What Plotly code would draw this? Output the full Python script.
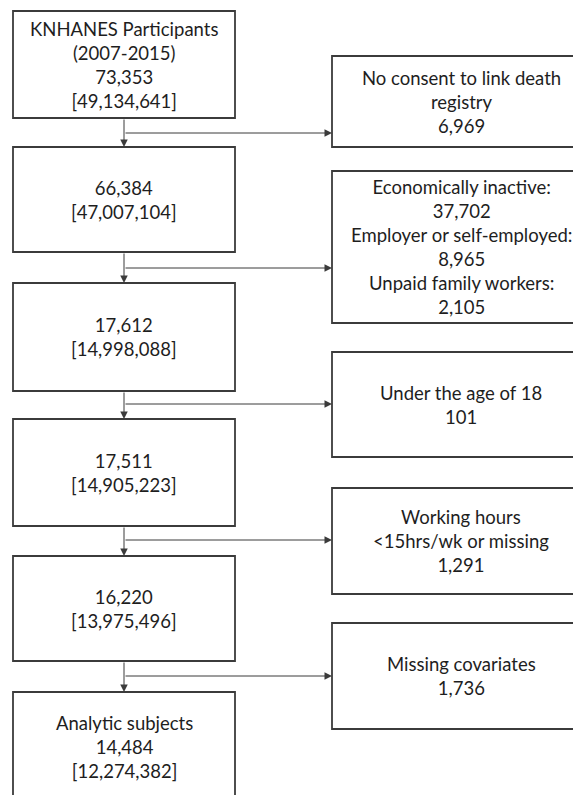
import plotly.graph_objects as go

# ---------------- data ----------------
main_titles = ["KNHANES Participants<br>(2007-2015)", "", "", "", "", "Analytic subjects"]
main_counts = [73353, 66384, 17612, 17511, 16220, 14484]
main_weighted = [49134641, 47007104, 14998088, 14905223, 13975496, 12274382]

excl_titles = [
    ["No consent to link death<br>registry"],
    ["Economically inactive:", "Employer or self-employed:", "Unpaid family workers:"],
    ["Under the age of 18"],
    ["Working hours<br>&lt;15hrs/wk or missing"],
    ["Missing covariates"],
]
excl_counts = [
    [6969],
    [37702, 8965, 2105],
    [101],
    [1291],
    [1736],
]

# ---------------- layout (pixel positions on the page) ----------------
W, H = 581, 795
OFF = 8                     # default page body margin
LX0, LX1 = 13, 235          # main boxes x-extent
CX = 124                    # connector x
RX0, RX1 = 332, 590         # exclusion boxes x-extent
main_y = [(11, 118), (147, 252), (283, 391), (419, 526), (556, 661), (692, 802)]
excl_y = [(56, 147), (171, 323), (352, 457), (488, 594), (623, 729)]
branch_y = [133, 268, 404, 540, 676]

LINE = "#3b3b3b"
TXT = "#1e1e1e"
FONT = "Lato"
FS = 18.5

fig = go.Figure()
shapes = []
annotations = []

def main_text(i):
    parts = []
    if main_titles[i]:
        parts.append(main_titles[i])
    parts.append(f"{main_counts[i]:,}")
    parts.append(f"[{main_weighted[i]:,}]")
    return "<br>".join(parts)

def excl_text(i):
    parts = []
    for t, n in zip(excl_titles[i], excl_counts[i]):
        parts.append(t)
        parts.append(f"{n:,}")
    return "<br>".join(parts)

for i, (y0, y1) in enumerate(main_y):
    shapes.append(dict(type="rect", xref="x", yref="y", x0=LX0, x1=LX1, y0=y0, y1=y1,
                       line=dict(color=LINE, width=1.8), fillcolor="white"))
    annotations.append(dict(x=(LX0 + LX1) / 2, y=(y0 + y1) / 2, xref="x", yref="y",
                            text=main_text(i), showarrow=False,
                            font=dict(family=FONT, size=FS, color=TXT), align="center"))

for i, (y0, y1) in enumerate(excl_y):
    shapes.append(dict(type="rect", xref="x", yref="y", x0=RX0, x1=RX1, y0=y0, y1=y1,
                       line=dict(color=LINE, width=1.8), fillcolor="white"))
    annotations.append(dict(x=(RX0 + RX1) / 2, y=(y0 + y1) / 2, xref="x", yref="y",
                            text=excl_text(i), showarrow=False,
                            font=dict(family=FONT, size=FS, color=TXT), align="center"))

# vertical connectors between main boxes
for i in range(len(main_y) - 1):
    annotations.append(dict(x=CX, y=main_y[i + 1][0], ax=CX, ay=main_y[i][1],
                            xref="x", yref="y", axref="x", ayref="y", text="",
                            showarrow=True, arrowhead=2, arrowsize=1.5, arrowwidth=1,
                            arrowcolor=LINE, standoff=0))

# horizontal branches to exclusion boxes
for yb in branch_y:
    annotations.append(dict(x=RX0, y=yb, ax=CX, ay=yb,
                            xref="x", yref="y", axref="x", ayref="y", text="",
                            showarrow=True, arrowhead=2, arrowsize=1.5, arrowwidth=1,
                            arrowcolor=LINE, standoff=0))

fig.update_layout(
    width=W - OFF, height=H - OFF,
    margin=dict(l=0, r=0, t=0, b=0),
    paper_bgcolor="white", plot_bgcolor="white",
    xaxis=dict(range=[OFF, W], visible=False, fixedrange=True),
    yaxis=dict(range=[H, OFF], visible=False, fixedrange=True),
    shapes=shapes, annotations=annotations, showlegend=False,
)

fig.write_html("out.html")
